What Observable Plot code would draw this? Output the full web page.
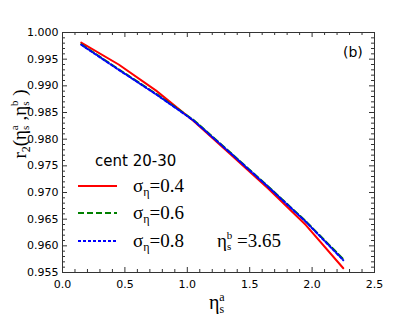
<!DOCTYPE html>
<html>
<head>
<meta charset="utf-8">
<script src="https://cdn.jsdelivr.net/npm/d3@7"></script>
<script src="https://cdn.jsdelivr.net/npm/@observablehq/plot@0.6"></script>
<style>
  html, body { margin: 0; padding: 0; background: #fff; }
  #chart { width: 415px; height: 323px; }
</style>
</head>
<body>
<div id="chart"></div>
<script>
// ---- data ----
const etaA = [0.15, 0.45, 0.75, 1.05, 1.35, 1.65, 1.95, 2.25];
const r2Sigma04 = [0.9981, 0.9940, 0.9891, 0.9834, 0.9771, 0.9707, 0.9639, 0.9558];
const r2Sigma06 = [0.9978, 0.9931, 0.9885, 0.9836, 0.9774, 0.9711, 0.9646, 0.9575];
const r2Sigma08 = [0.9977, 0.9930, 0.9884, 0.9835, 0.9773, 0.9710, 0.9645, 0.9573];
const seriesNames = ["0.4", "0.6", "0.8"];
const xTicks = [0, 0.5, 1.0, 1.5, 2.0, 2.5];
const xMinorTicks = [0.1,0.2,0.3,0.4,0.6,0.7,0.8,0.9,1.1,1.2,1.3,1.4,1.6,1.7,1.8,1.9,2.1,2.2,2.3,2.4];
const yTicks = [0.955, 0.960, 0.965, 0.970, 0.975, 0.980, 0.985, 0.990, 0.995, 1.000];
const yMinorTicks = [];
for (let i = 0; i < 9; i++) for (let j = 1; j < 5; j++) yMinorTicks.push(+(0.955 + i * 0.005 + j * 0.001).toFixed(3));

const rows = [];
[r2Sigma04, r2Sigma06, r2Sigma08].forEach((arr, k) => {
  arr.forEach((v, i) => rows.push({x: etaA[i], y: v, s: seriesNames[k]}));
});

const W = 415, H = 323;
const mL = 62, mR = 41, mT = 32, mB = 51;
const fw = W - mL - mR, fh = H - mT - mB;
const maj = 5, mnr = 3;
const styles = {
  "0.4": {stroke: "#ff0000", dash: null},
  "0.6": {stroke: "#008000", dash: "6,3"},
  "0.8": {stroke: "#0000ff", dash: "3,2"}
};
const tickColor = "#333";

const plot = Plot.plot({
  width: W, height: H,
  marginLeft: mL, marginRight: mR, marginTop: mT, marginBottom: mB,
  style: {fontFamily: "DejaVu Sans", fontSize: "11px", color: "#000", background: "#fff"},
  x: {domain: [0, 2.5], ticks: xTicks, tickFormat: d3.format(".1f"), tickSize: 0, tickPadding: 8, label: null},
  y: {domain: [0.955, 1.0], ticks: yTicks, tickFormat: d3.format(".3f"), tickSize: 0, tickPadding: 4, label: null},
  marks: [
    Plot.ruleX(xTicks, {x: d => d, insetTop: fh - maj, stroke: tickColor}),
    Plot.ruleX(xTicks, {x: d => d, insetBottom: fh - maj, stroke: tickColor}),
    Plot.ruleX(xMinorTicks, {x: d => d, insetTop: fh - mnr, stroke: tickColor}),
    Plot.ruleX(xMinorTicks, {x: d => d, insetBottom: fh - mnr, stroke: tickColor}),
    Plot.ruleY(yTicks, {y: d => d, insetRight: fw - maj, stroke: tickColor}),
    Plot.ruleY(yTicks, {y: d => d, insetLeft: fw - maj, stroke: tickColor}),
    Plot.ruleY(yMinorTicks, {y: d => d, insetRight: fw - mnr, stroke: tickColor}),
    Plot.ruleY(yMinorTicks, {y: d => d, insetLeft: fw - mnr, stroke: tickColor}),
    ...seriesNames.map(s => Plot.line(rows.filter(r => r.s === s), {
      x: "x", y: "y", stroke: styles[s].stroke, strokeWidth: 2,
      strokeDasharray: styles[s].dash
    })),
    Plot.frame({stroke: tickColor, strokeWidth: 1})
  ]
});
document.getElementById("chart").appendChild(plot);

// ---- annotations (legend, labels) ----
const svg = d3.select(plot);
const serif = "'Liberation Serif', 'Times New Roman', serif";
const sans = "'DejaVu Sans', sans-serif";
const txt = () => svg.append("text").attr("text-anchor", "start").attr("fill", "#000");

// panel tag
txt().attr("x", 343).attr("y", 57).attr("font-family", sans).attr("font-size", 14).text("(b)");

// legend title
txt().attr("x", 95).attr("y", 166).attr("font-family", sans).attr("font-size", 15).text("cent 20-30");

const legY = [186, 213, 241];
seriesNames.forEach((s, i) => {
  svg.append("line").attr("x1", 78).attr("x2", 117).attr("y1", legY[i]).attr("y2", legY[i])
    .attr("stroke", styles[s].stroke).attr("stroke-width", 2)
    .attr("stroke-dasharray", styles[s].dash);
  const t = txt().attr("x", 133).attr("y", legY[i] + 6).attr("font-family", serif).attr("font-size", 19);
  t.append("tspan").text("σ");
  t.append("tspan").attr("font-size", 12).attr("dy", 4).text("η");
  t.append("tspan").attr("dy", -4).text("=" + s);
});

// eta_s^b = 3.65
{
  const t = txt().attr("x", 217).attr("y", 247).attr("font-family", serif).attr("font-size", 19);
  t.append("tspan").text("η");
  t.append("tspan").attr("font-size", 11).attr("dy", 3).text("s");
  t.append("tspan").attr("font-size", 11).attr("dx", -4.5).attr("dy", -11).text("b");
  t.append("tspan").attr("dy", 8).text(" =3.65");
}

// x label
{
  const t = txt().attr("x", 209).attr("y", 309).attr("font-family", serif).attr("font-size", 20);
  t.append("tspan").text("η");
  t.append("tspan").attr("font-size", 12).attr("dy", 4).text("s");
  t.append("tspan").attr("font-size", 12).attr("dx", -5).attr("dy", -12).text("a");
}

// y label
{
  const t = svg.append("text").attr("transform", "translate(26,124) rotate(-90)")
    .attr("text-anchor", "middle").attr("fill", "#000").attr("font-family", serif).attr("font-size", 19);
  t.append("tspan").text("r");
  t.append("tspan").attr("font-size", 12).attr("dy", 4).text("2");
  t.append("tspan").attr("dy", -4).text("(η");
  t.append("tspan").attr("font-size", 11).attr("dy", 3).text("s");
  t.append("tspan").attr("font-size", 11).attr("dx", -4.5).attr("dy", -11).text("a");
  t.append("tspan").attr("dy", 8).text(" ,η");
  t.append("tspan").attr("font-size", 11).attr("dy", 3).text("s");
  t.append("tspan").attr("font-size", 11).attr("dx", -4.5).attr("dy", -11).text("b");
  t.append("tspan").attr("dy", 8).text(" )");
}
</script>
</body>
</html>
